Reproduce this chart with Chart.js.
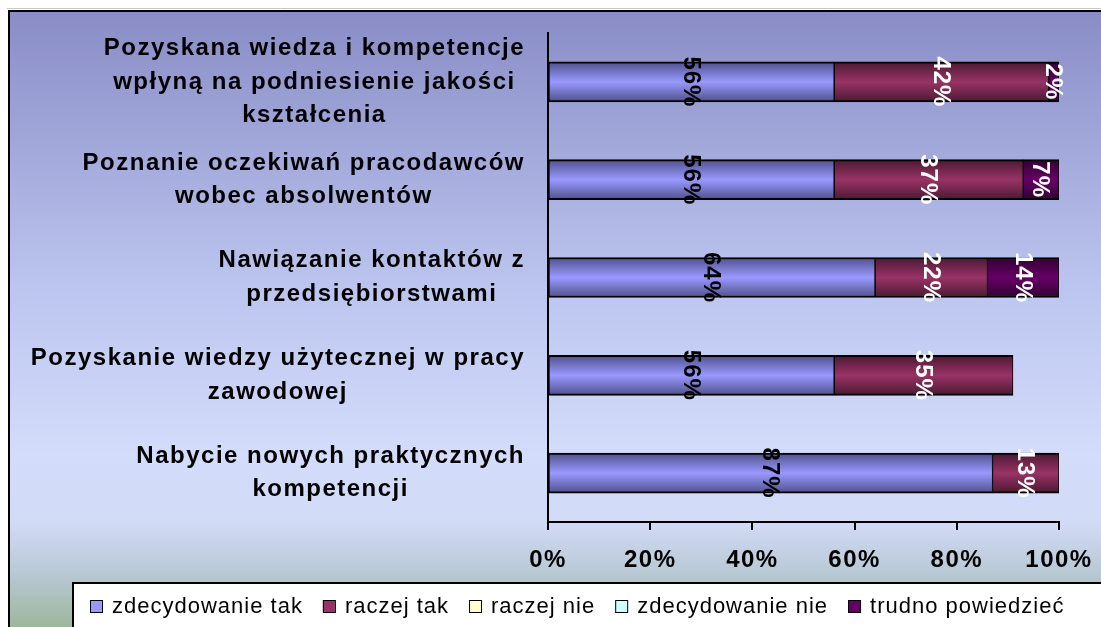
<!DOCTYPE html>
<html>
<head>
<meta charset="utf-8">
<script src="https://cdn.jsdelivr.net/npm/chart.js@4"></script>
<style>
  html, body { margin: 0; padding: 0; background: #fff; }
  #wrap { width: 1101px; height: 627px; }
</style>
</head>
<body>
<div id="wrap"><canvas id="myChart"></canvas></div>
<script>
// # Data of the chart
const categories = [
  ["Pozyskana wiedza i kompetencje", "wpłyną na podniesienie jakości", "kształcenia"],
  ["Poznanie oczekiwań pracodawców", "wobec absolwentów"],
  ["Nawiązanie kontaktów z", "przedsiębiorstwami"],
  ["Pozyskanie wiedzy użytecznej w pracy", "zawodowej"],
  ["Nabycie nowych praktycznych", "kompetencji"],
];
const seriesNames = ["zdecydowanie tak", "raczej tak", "raczej nie", "zdecydowanie nie", "trudno powiedzieć"];
const zdecydowanieTak = [56, 56, 64, 56, 87];
const raczejTak = [42, 37, 22, 35, 13];
const raczejNie = [0, 0, 0, 0, 0];
const zdecydowanieNie = [0, 0, 0, 0, 0];
const trudnoPowiedziec = [2, 7, 14, 0, 0];
const xTicks = [0, 20, 40, 60, 80, 100];

// # Colors: [edge, middle] of the bar shading
const colors = [
  ["#50508c", "#9999ff"],
  ["#4b1932", "#993366"],
  ["#8c8c6e", "#ffffcc"],
  ["#6e8c8c", "#ccffff"],
  ["#320032", "#660066"],
];
const labelColors = ["#000", "#fff", "#000", "#000", "#fff"];
const FONT = "'Liberation Sans', Arial, sans-serif";

// # Gradient for each bar (dark edges, bright middle)
const barFill = (i) => (c) => {
  const [edge, mid] = colors[i];
  if (c.type !== "data" || !c.chart.chartArea) return mid;
  const yc = c.chart.scales.y.getPixelForValue(c.dataIndex);
  const g = c.chart.ctx.createLinearGradient(0, yc - 20, 0, yc + 20);
  g.addColorStop(0, edge);
  g.addColorStop(0.5, mid);
  g.addColorStop(1, edge);
  return g;
};

const spacing = {
  id: "spacing",
  beforeLayout(chart) { chart.ctx.letterSpacing = "1.5px"; },
  beforeDraw(chart) { chart.ctx.letterSpacing = "1.5px"; },
};

// # Background with frame
const background = {
  id: "background",
  beforeDraw(chart) {
    const { ctx, width, height } = chart;
    ctx.save();
    ctx.fillStyle = "#fff";
    ctx.fillRect(0, 0, width, height);
    const g = ctx.createLinearGradient(0, 10, 0, height);
    g.addColorStop(0, "#898cc6");
    g.addColorStop(0.45, "#bcc5ef");
    g.addColorStop(0.72, "#d3dcfa");
    g.addColorStop(0.83, "#d1dbf6");
    g.addColorStop(0.91, "#b9c9d6");
    g.addColorStop(1, "#9db69c");
    ctx.fillStyle = g;
    ctx.fillRect(9, 11, width, height);
    ctx.strokeStyle = "#c8c8c8";
    ctx.lineWidth = 1;
    ctx.beginPath();
    ctx.moveTo(7, 8.5);
    ctx.lineTo(width, 8.5);
    ctx.stroke();
    ctx.strokeStyle = "#000";
    ctx.lineWidth = 2;
    ctx.beginPath();
    ctx.moveTo(9, height);
    ctx.lineTo(9, 11);
    ctx.lineTo(width, 11);
    ctx.stroke();
    ctx.restore();
  },
};

// # Category labels: each block right aligned, its lines centered
const categoryLabels = {
  id: "categoryLabels",
  beforeDatasetsDraw(chart) {
    const { ctx } = chart;
    const y = chart.scales.y;
    const lineH = 33.5;
    ctx.save();
    ctx.letterSpacing = "1.5px";
    ctx.font = "bold 24px " + FONT;
    ctx.fillStyle = "#000";
    ctx.textAlign = "center";
    ctx.textBaseline = "middle";
    chart.data.labels.forEach((lines, i) => {
      const widest = Math.max(...lines.map((l) => ctx.measureText(l).width));
      const cx = y.right - 23 - widest / 2;
      const yc = y.getPixelForTick(i);
      lines.forEach((l, k) => {
        ctx.fillText(l, cx, yc + (k - (lines.length - 1) / 2) * lineH);
      });
    });
    ctx.restore();
  },
};

// # Rotated value labels
const valueLabels = {
  id: "valueLabels",
  afterDatasetsDraw(chart) {
    const { ctx } = chart;
    ctx.save();
    ctx.letterSpacing = "1px";
    ctx.font = "bold 24px " + FONT;
    ctx.textAlign = "center";
    ctx.textBaseline = "middle";
    chart.data.datasets.forEach((ds, i) => {
      const meta = chart.getDatasetMeta(i);
      meta.data.forEach((bar, j) => {
        const v = ds.data[j];
        if (!v) return;
        ctx.save();
        ctx.translate((bar.x + bar.base) / 2, bar.y);
        ctx.rotate(Math.PI / 2);
        ctx.fillStyle = labelColors[i];
        ctx.fillText(v + "%", 0, 1);
        ctx.restore();
      });
    });
    ctx.restore();
  },
};

// # Legend box at the bottom
const legendBox = {
  id: "legendBox",
  afterDraw(chart) {
    const { ctx, width, height } = chart;
    ctx.save();
    ctx.fillStyle = "#fff";
    ctx.fillRect(73, 583, width, height);
    ctx.strokeStyle = "#000";
    ctx.lineWidth = 2;
    ctx.beginPath();
    ctx.moveTo(73, height);
    ctx.lineTo(73, 583);
    ctx.lineTo(width, 583);
    ctx.stroke();
    ctx.letterSpacing = "1px";
    ctx.font = "22px " + FONT;
    ctx.textBaseline = "middle";
    ctx.textAlign = "left";
    let x = 90;
    chart.data.datasets.forEach((ds, i) => {
      ctx.fillStyle = colors[i][1];
      ctx.fillRect(x, 600, 12, 12);
      ctx.lineWidth = 1;
      ctx.strokeStyle = "#000";
      ctx.strokeRect(x + 0.5, 600.5, 12, 12);
      ctx.fillStyle = "#000";
      ctx.fillText(ds.label, x + 22, 607);
      x += 22 + ctx.measureText(ds.label).width + 20;
    });
    ctx.restore();
  },
};

const chart = document.getElementById("myChart");
const series = [zdecydowanieTak, raczejTak, raczejNie, zdecydowanieNie, trudnoPowiedziec];

new Chart(chart, {
  type: "bar",
  data: {
    labels: categories,
    datasets: series.map((d, i) => ({
      label: seriesNames[i],
      data: d,
      backgroundColor: barFill(i),
      borderColor: "#000",
      borderWidth: { top: 2, bottom: 2, left: 1, right: 1 },
      borderSkipped: false,
      barThickness: 40,
    })),
  },
  options: {
    indexAxis: "y",
    responsive: true,
    maintainAspectRatio: false,
    animation: false,
    layout: { padding: { top: 33, right: 42, left: 0, bottom: 0 } },
    plugins: { legend: { display: false }, tooltip: { enabled: false } },
    scales: {
      x: {
        stacked: true,
        min: 0,
        max: 100,
        afterBuildTicks: (s) => { s.ticks = xTicks.map((v) => ({ value: v })); },
        afterFit: (s) => { s.height = 105; s.paddingLeft = 0; s.paddingRight = 0; },
        grid: { drawOnChartArea: false, drawTicks: true, tickLength: 8, color: "#000", lineWidth: 2 },
        border: { display: true, color: "#000", width: 2 },
        ticks: {
          padding: 16,
          color: "#000",
          maxRotation: 0,
          font: { family: FONT, size: 24, weight: "bold" },
          callback: (v) => v + "%",
        },
      },
      y: {
        stacked: true,
        afterFit: (s) => { s.width = 548; s.paddingTop = 0; s.paddingBottom = 0; },
        grid: { display: false },
        border: { display: true, color: "#000", width: 2 },
        ticks: { display: false, autoSkip: false },
      },
    },
  },
  plugins: [spacing, background, categoryLabels, valueLabels, legendBox],
});
</script>
</body>
</html>
